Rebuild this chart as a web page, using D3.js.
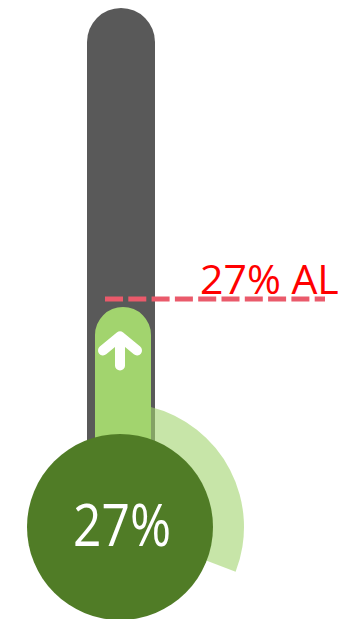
<!DOCTYPE html>
<html>
<head>
<meta charset="utf-8">
<script src="https://cdn.jsdelivr.net/npm/d3@7"></script>
<style>
  html, body { margin: 0; padding: 0; background: #ffffff; }
  svg { display: block; }
</style>
</head>
<body>
<svg id="chart" width="351" height="619"></svg>
<script>
// Thermometer gauge: current level, alert threshold and a circular readout
const metrics = ["current", "alert"];
const values = [27, 27];               // percent
const labels = ["27%", "27% AL"];
const gaugeArcValue = [0.27];          // share of the ring swept by the arc

const W = 351, H = 619;
const svg = d3.select("#chart");

// layout
const tube = { x: 87, w: 68, top: 8, bottom: 500 };
const fillInset = { left: 8, right: 4, top: 8 };
const bulb = { cx: 120, cy: 527, r: 93, ringOuter: 124 };

// vertical scale of the thermometer (0% near the bulb, 100% at the tube top)
const y = d3.scaleLinear().domain([0, 100]).range([406.6, tube.top]);

// ring scale: the sweep begins where the tube's right edge crosses the ring
const startA = 14 * Math.PI / 180;
const angle = d3.scaleLinear().domain([0, 1]).range([startA, startA + 2 * Math.PI]);

// rounded-top rectangle path
function roundTop(x, yTop, w, yBottom) {
  const r = w / 2;
  const p = d3.path();
  p.moveTo(x, yBottom);
  p.lineTo(x, yTop + r);
  p.arc(x + r, yTop + r, r, Math.PI, 0);
  p.lineTo(x + w, yBottom);
  p.closePath();
  return p.toString();
}

// tube
svg.append("path")
  .attr("d", roundTop(tube.x, tube.top, tube.w, tube.bottom))
  .attr("fill", "#595959");

// ring arc
const arcGen = d3.arc()
  .innerRadius(bulb.r - 2)
  .outerRadius(bulb.ringOuter)
  .startAngle(angle(0))
  .endAngle(angle(gaugeArcValue[0]));
svg.append("path")
  .attr("transform", `translate(${bulb.cx},${bulb.cy})`)
  .attr("d", arcGen())
  .attr("fill", "#a2d46e")
  .attr("fill-opacity", 0.6);

// fill column up to the current value
const fx = tube.x + fillInset.left;
const fw = tube.w - fillInset.left - fillInset.right;
const fillTop = y(values[0]) + fillInset.top;
svg.append("path")
  .attr("d", roundTop(fx, fillTop, fw, tube.bottom))
  .attr("fill", "#a2d46e");

// up arrow inside the fill
const ax = bulb.cx, ay = fillTop + 29.5;
const arrow = svg.append("g")
  .attr("fill", "none")
  .attr("stroke", "#ffffff")
  .attr("stroke-width", 10)
  .attr("stroke-linecap", "round")
  .attr("stroke-linejoin", "round");
arrow.append("line")
  .attr("x1", ax).attr("y1", ay + 2)
  .attr("x2", ax).attr("y2", ay + 29);
arrow.append("polyline")
  .attr("points", `${ax - 17},${ay + 14} ${ax},${ay} ${ax + 17},${ay + 14}`);

// alert threshold
const yAl = y(values[1]);
svg.append("line")
  .attr("x1", 105).attr("x2", 325)
  .attr("y1", yAl).attr("y2", yAl)
  .attr("stroke", "#ea5a6b")
  .attr("stroke-width", 5)
  .attr("stroke-dasharray", "18 5.3");
svg.append("text")
  .attr("x", 200).attr("y", yAl - 5)
  .attr("font-family", "'Open Sans', sans-serif")
  .attr("font-size", 41)
  .attr("fill", "#ff0000")
  .text(labels[1]);

// bulb with readout
svg.append("circle")
  .attr("cx", bulb.cx).attr("cy", bulb.cy).attr("r", bulb.r)
  .attr("fill", "#507c26");
svg.append("text")
  .attr("x", 73).attr("y", 546)
  .attr("font-family", "'Open Sans', sans-serif")
  .attr("font-size", 58)
  .attr("textLength", 98)
  .attr("lengthAdjust", "spacingAndGlyphs")
  .attr("fill", "#ffffff")
  .text(labels[0]);
</script>
</body>
</html>
